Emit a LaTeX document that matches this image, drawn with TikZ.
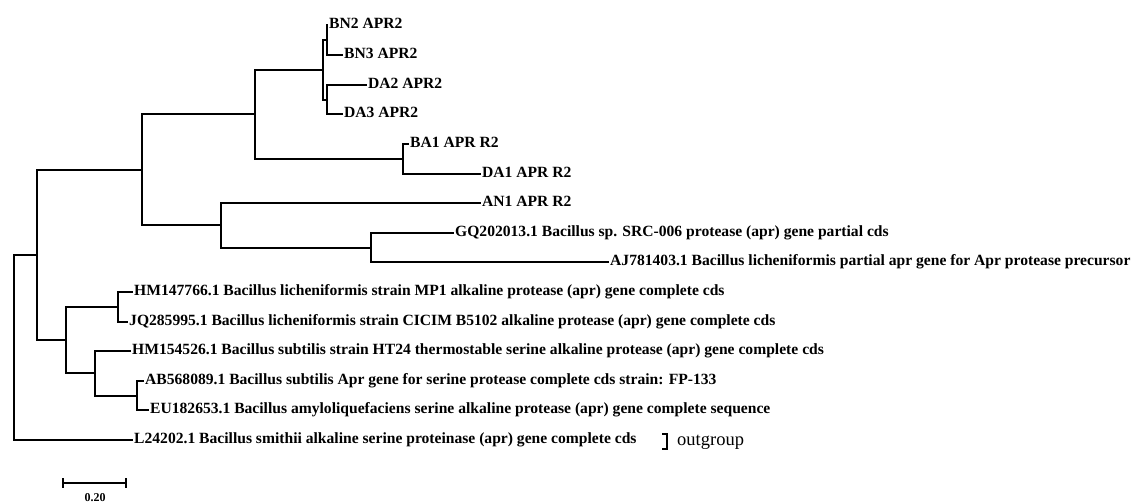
\documentclass[tikz,border=0pt]{standalone}
\usepackage{fontspec}
\setmainfont{Liberation Serif}

\tikzset{
  lab/.style={anchor=west, inner xsep=2pt, inner ysep=0pt,
    font=\bfseries\fontsize{15.6}{18}\selectfont,
    text height=11pt, text depth=3.5pt},
  branch/.style={line width=2pt, line cap=rect}
}

\begin{document}
\begin{tikzpicture}[x=1pt,y=-1pt]
\useasboundingbox (0,0) rectangle (1135,503);

% Tip labels
\node[lab] (bn2) at (327,25) {BN2 APR2};
\node[lab] (bn3) at (342,55) {BN3 APR2};
\node[lab] (da2) at (366,85) {DA2 APR2};
\node[lab] (da3) at (342,114) {DA3 APR2};
\node[lab] (ba1) at (408,144) {BA1 APR R2};
\node[lab] (da1) at (480,174) {DA1 APR R2};
\node[lab] (an1) at (480,203) {AN1 APR R2};
\node[lab] (gq) at (453,233) {GQ202013.1 Bacillus sp. SRC-006 protease (apr) gene partial cds};
\node[lab] (aj) at (608,262) {AJ781403.1 Bacillus licheniformis partial apr gene for Apr protease precursor};
\node[lab] (hm147) at (132,292) {HM147766.1 Bacillus licheniformis strain MP1 alkaline protease (apr) gene complete cds};
\node[lab] (jq) at (127,322) {JQ285995.1 Bacillus licheniformis strain CICIM B5102 alkaline protease (apr) gene complete cds};
\node[lab] (hm154) at (130,351) {HM154526.1 Bacillus subtilis strain HT24 thermostable serine alkaline protease (apr) gene complete cds};
\node[lab] (ab) at (143,381) {AB568089.1 Bacillus subtilis Apr gene for serine protease complete cds strain: FP-133};
\node[lab] (eu) at (148,410) {EU182653.1 Bacillus amyloliquefaciens serine alkaline protease (apr) gene complete sequence};
\node[lab] (l24) at (132,440) {L24202.1 Bacillus smithii alkaline serine proteinase (apr) gene complete cds};

% Inner nodes
\coordinate (nbn) at (327,40);
\coordinate (nda) at (327,100);
\coordinate (nbd) at (323,70);
\coordinate (nba) at (403,159);
\coordinate (ntop) at (255,114);
\coordinate (nga) at (371,248);
\coordinate (nan) at (221,225);
\coordinate (nup) at (142,170);
\coordinate (nhj) at (118,307);
\coordinate (nae) at (137,396);
\coordinate (nha) at (95,373);
\coordinate (nlow) at (66,340);
\coordinate (nin) at (37,255);
\coordinate (root) at (14,347);

% Upper clade
\draw[branch] (bn2.west) -| (nbn) |- (bn3.west);
\draw[branch] (da2.west) -| (nda) |- (da3.west);
\draw[branch] (nbn) -| (nbd) |- (nda);
\draw[branch] (ba1.west) -| (nba) |- (da1.west);
\draw[branch] (nbd) -| (ntop) |- (nba);
\draw[branch] (gq.west) -| (nga) |- (aj.west);
\draw[branch] (an1.west) -| (nan) |- (nga);
\draw[branch] (ntop) -| (nup) |- (nan);

% Lower clade
\draw[branch] (hm147.west) -| (nhj) |- (jq.west);
\draw[branch] (ab.west) -| (nae) |- (eu.west);
\draw[branch] (hm154.west) -| (nha) |- (nae);
\draw[branch] (nhj) -| (nlow) |- (nha);
\draw[branch] (nup) -| (nin) |- (nlow);

% Root and outgroup
\draw[branch] (nin) -| (root) |- (l24.west);
\draw[line width=1.3pt] (662,434) -- (667,434) -- (667,449) -- (662,449);
\node[anchor=base west, inner sep=0pt, font=\fontsize{18.5}{20}\selectfont] (og) at (677,445) {outgroup};

% Scale bar
\coordinate (sbl) at (63,483);
\coordinate (sbr) at (126,483);
\draw[line width=2pt] (sbl) -- (sbr);
\draw[line width=2pt] (63,478) -- (63,488);
\draw[line width=2pt] (126,478) -- (126,488);
\node[font=\bfseries\fontsize{12}{14}\selectfont, inner sep=0pt] (sblab) at (95,498) {0.20};

\end{tikzpicture}
\end{document}
